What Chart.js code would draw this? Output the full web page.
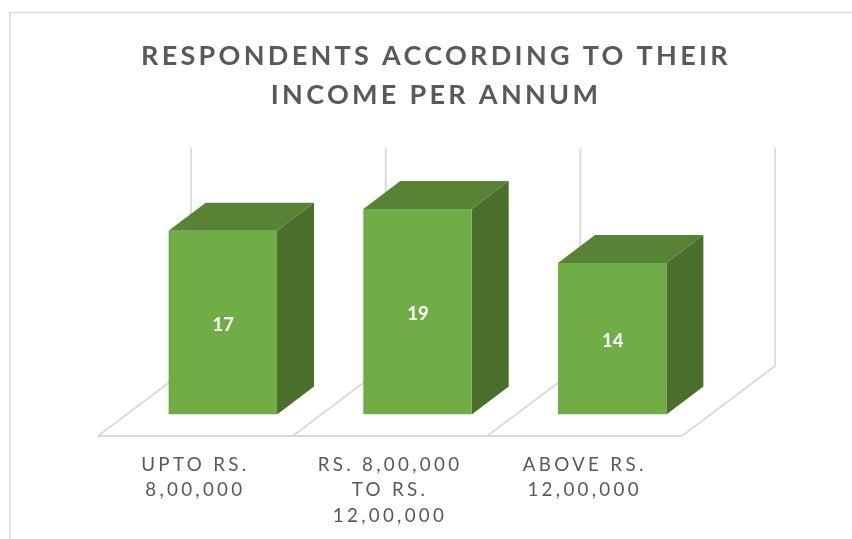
<!DOCTYPE html>
<html>
<head>
<meta charset="utf-8">
<title>Respondents according to their income per annum</title>
<script src="https://cdn.jsdelivr.net/npm/chart.js@4"></script>
<style>
    html, body { margin: 0; padding: 0; background: #fff; }
    canvas { display: block; }
</style>
</head>
<body>
<canvas id="myChart" width="852" height="539"></canvas>
<script>
const chartTitle = ['RESPONDENTS ACCORDING TO THEIR', 'INCOME PER ANNUM'];
const categories = [['UPTO RS.', '8,00,000'], ['RS. 8,00,000', 'TO RS.', '12,00,000'], ['ABOVE RS.', '12,00,000']];
const respondents = [17, 19, 14];
const axisMax = 20;

const GREY = '#595959';
const LINE = '#d9d9d9';

// fake 3d: depth of a bar and how far the floor runs in front of / behind the bars
const barDepth = { x: 37, y: 28 };
const floorFront = { x: 27.5, y: 21.5 };
const floorBack = { x: 65.5, y: 48.5 };

const fake3d = {
    id: 'fake3d',
    beforeDraw(chart) {
        const ctx = chart.ctx;
        ctx.letterSpacing = '3.3px';
        // outer frame of the chart, only top and left show
        ctx.save();
        ctx.strokeStyle = LINE;
        ctx.lineWidth = 1.5;
        ctx.beginPath();
        ctx.moveTo(10, 539);
        ctx.lineTo(10, 12.5);
        ctx.lineTo(852, 12.5);
        ctx.stroke();
        ctx.restore();
    },
    beforeDatasetsDraw(chart) {
        const ctx = chart.ctx;
        const area = chart.chartArea;
        const band = (area.right - area.left) / categories.length;
        const frontY = area.bottom + floorFront.y;
        const backY = area.bottom - floorBack.y;

        ctx.save();
        ctx.strokeStyle = LINE;
        ctx.lineWidth = 1.8;
        ctx.beginPath();
        ctx.moveTo(area.left - floorFront.x, frontY);
        ctx.lineTo(area.right - floorFront.x, frontY);
        for (let i = 0; i <= categories.length; i++) {
            const edge = area.left + band * i;
            ctx.moveTo(edge - floorFront.x, frontY);
            ctx.lineTo(edge + floorBack.x, backY);
            ctx.lineTo(edge + floorBack.x, area.top - floorBack.y - 1.5);
        }
        ctx.stroke();

        // side and top faces, the front face is the chart.js bar
        chart.getDatasetMeta(0).data.forEach(bar => {
            const left = bar.x - bar.width / 2;
            const right = bar.x + bar.width / 2;
            ctx.fillStyle = '#4a6e2b';
            ctx.beginPath();
            ctx.moveTo(right, bar.y);
            ctx.lineTo(right + barDepth.x, bar.y - barDepth.y);
            ctx.lineTo(right + barDepth.x, bar.base - barDepth.y);
            ctx.lineTo(right, bar.base);
            ctx.closePath();
            ctx.fill();

            ctx.fillStyle = '#588234';
            ctx.beginPath();
            ctx.moveTo(left, bar.y);
            ctx.lineTo(left + barDepth.x, bar.y - barDepth.y);
            ctx.lineTo(right + barDepth.x, bar.y - barDepth.y);
            ctx.lineTo(right, bar.y);
            ctx.closePath();
            ctx.fill();
        });
        ctx.restore();
    },
    afterDatasetsDraw(chart) {
        const ctx = chart.ctx;
        ctx.save();
        ctx.letterSpacing = '0px';
        ctx.fillStyle = '#fff';
        ctx.font = 'bold 18.5px Lato';
        ctx.textAlign = 'center';
        ctx.textBaseline = 'middle';
        chart.getDatasetMeta(0).data.forEach((bar, i) => {
            ctx.fillText(respondents[i], bar.x + 0.5, (bar.y + bar.base) / 2 + 2);
        });
        ctx.restore();
    }
};

const ctx = document.getElementById('myChart').getContext('2d');
const myChart = new Chart(ctx, {
    type: 'bar',
    data: {
        labels: categories,
        datasets: [{
            label: 'Respondents',
            data: respondents,
            backgroundColor: '#70ad47',
            barPercentage: 0.557,
            categoryPercentage: 1
        }]
    },
    options: {
        responsive: false,
        animation: false,
        layout: { padding: { left: 20, right: 0, top: 0, bottom: 0 } },
        plugins: {
            legend: { display: false },
            tooltip: { enabled: false },
            title: {
                display: true,
                text: chartTitle,
                color: GREY,
                font: { family: 'Lato', size: 27, weight: 'bold', lineHeight: 1.43 },
                padding: { top: 37, bottom: 84 }
            }
        },
        scales: {
            x: {
                grid: { display: false },
                border: { display: false },
                afterFit: scale => { scale.height = 124.5; },
                ticks: {
                    color: GREY,
                    font: { family: 'Lato', size: 18.8, lineHeight: 1.38 },
                    padding: 29,
                    labelOffset: -27.5,
                    maxRotation: 0,
                    autoSkip: false
                }
            },
            y: {
                min: 0,
                max: axisMax,
                grid: { display: false },
                border: { display: false },
                ticks: { display: false },
                afterFit: scale => { scale.width = 105.5; }
            },
            // empty axis, keeps the title centred right of the plot centre
            spacer: {
                type: 'linear',
                position: 'right',
                grid: { display: false },
                border: { display: false },
                ticks: { display: false },
                afterFit: scale => { scale.width = 142.5; }
            }
        }
    },
    plugins: [fake3d]
});
</script>
</body>
</html>
